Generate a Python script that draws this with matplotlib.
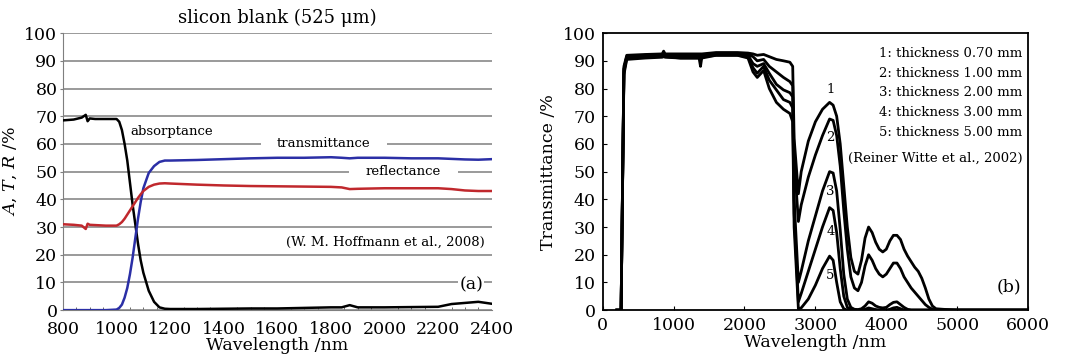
import matplotlib
matplotlib.use('Agg')
import matplotlib.pyplot as plt
from matplotlib.ticker import MultipleLocator

plt.rcParams['font.family'] = ['DejaVu Serif']
plt.rcParams['mathtext.fontset'] = 'dejavuserif'

# ---- panel (a): silicon blank 525 um ----
wl_a = [800, 840, 870, 885, 892, 900, 920, 960, 1000, 1010, 1020, 1030, 1040, 1050,
        1060, 1070, 1080, 1090, 1100, 1120, 1140, 1160, 1180, 1200, 1300, 1400,
        1500, 1600, 1700, 1800, 1840, 1870, 1900, 2000, 2100, 2200, 2250, 2300,
        2350, 2400]
absorp = [68.5, 68.8, 69.5, 70.5, 68.2, 69.2, 69.0, 69.0, 69.0, 68.0, 65.0, 60.0,
          54.0, 46.0, 38.0, 31.0, 24.0, 18.0, 13.5, 7.0, 3.0, 1.0, 0.5, 0.4, 0.4,
          0.5, 0.6, 0.6, 0.8, 1.0, 1.0, 1.8, 1.0, 1.0, 1.1, 1.2, 2.2, 2.6, 3.0, 2.3]
transm = [0.0, 0.0, 0.0, 0.0, 0.0, 0.0, 0.0, 0.0, 0.2, 0.8, 2.0, 4.5, 8.0, 13.0,
          19.0, 26.0, 33.0, 39.0, 44.0, 49.5, 52.0, 53.5, 54.0, 54.0, 54.2, 54.5,
          54.8, 55.0, 55.0, 55.2, 55.0, 54.8, 55.0, 55.0, 54.8, 54.8, 54.6, 54.4,
          54.3, 54.5]
reflect = [31.0, 30.8, 30.5, 29.3, 31.2, 30.8, 30.7, 30.5, 30.5, 31.0, 31.8, 33.0,
           34.5, 36.0, 37.5, 39.0, 40.5, 41.8, 43.0, 44.5, 45.3, 45.7, 45.8, 45.7,
           45.3, 45.0, 44.8, 44.7, 44.6, 44.5, 44.3, 43.7, 43.8, 44.0, 44.0, 44.0,
           43.7, 43.2, 43.0, 43.0]

# ---- panel (b): transmittance vs thickness ----
wl_b = [200, 260, 300, 340, 600, 840, 860, 880, 1100, 1360, 1380, 1400, 1600, 1900,
        2050, 2120, 2180, 2270, 2350, 2450, 2550, 2640, 2680, 2700, 2760, 2800,
        2900, 3000, 3100, 3200, 3250, 3300, 3350, 3400, 3450, 3500, 3550, 3600,
        3650, 3700, 3750, 3800, 3850, 3900, 3950, 4000, 4050, 4100, 4150, 4200,
        4250, 4300, 4350, 4400, 4450, 4500, 4550, 4600, 4650, 4700, 4800, 5000,
        6000]
t1 = [0, 0, 88, 92, 92.3, 92.5, 93.5, 92.5, 92.5, 92.5, 92.5, 92.5, 93, 93, 92.8,
      92.5, 92, 92.3, 91.5, 90.5, 90, 89.5, 88, 62, 42, 50, 61, 68, 72.5, 75, 74,
      70, 60, 45, 30, 19, 14, 13, 18, 26, 30, 28, 24.5, 22, 21, 22, 25, 27, 27,
      25.5, 22, 19.5, 17.5, 15.5, 14, 11.5, 8, 4, 1.5, 0.5, 0.3, 0, 0]
t2 = [0, 0, 87, 91.5, 92, 92.2, 93, 92.2, 92, 92, 92, 92, 92.5, 92.5, 92.3, 91.5,
      90, 90.5, 88, 86, 84, 82.5, 81, 55, 32, 38, 48, 56, 63, 69, 68.5, 63, 52,
      36, 22, 12, 8, 7, 10, 16, 20, 18, 15, 13, 12, 13, 15, 17, 17, 15, 12, 10,
      8, 6.5, 5, 3.5, 2, 1, 0.3, 0, 0, 0, 0]
t3 = [0, 0, 87, 91.5, 92, 92, 92.5, 92, 91.5, 91.5, 91.5, 91.5, 92.5, 92.5, 92,
      89, 88, 89, 85.5, 81.5, 79.5, 78.5, 77, 40, 10, 14, 25, 34, 43, 50, 49.5,
      43, 29, 13, 4, 1, 0.3, 0.2, 0.5, 1.5, 3, 2.5, 1.5, 1, 0.8, 1, 2, 2.8, 3, 2,
      1, 0.3, 0, 0, 0, 0, 0, 0, 0, 0, 0, 0, 0]
t4 = [0, 0, 86, 91, 91.5, 91.5, 92, 91.5, 91, 91, 88, 91.5, 92, 92, 91.5, 87.5,
      85.5, 88, 83, 79.5, 76, 75, 73, 35, 3, 6, 14, 22, 30, 37, 36, 28, 15, 5, 1,
      0.3, 0, 0, 0, 0.3, 0.8, 0.5, 0.2, 0, 0, 0, 0.3, 0.8, 1, 0.5, 0, 0, 0, 0, 0,
      0, 0, 0, 0, 0, 0, 0, 0]
t5 = [0, 0, 85, 90.5, 91, 91.3, 91.5, 91.3, 91, 91, 91, 91, 92, 92, 91, 86, 84,
      86.5, 80, 75, 72.5, 71, 68, 30, 0.5, 0.8, 4, 9, 15, 19.5, 18, 10, 3, 0.5, 0,
      0, 0, 0, 0, 0, 0, 0, 0, 0, 0, 0, 0, 0, 0, 0, 0, 0, 0, 0, 0, 0, 0, 0, 0, 0,
      0, 0, 0]
legend_b = ['1: thickness 0.70 mm', '2: thickness 1.00 mm', '3: thickness 2.00 mm',
            '4: thickness 3.00 mm', '5: thickness 5.00 mm']
curve_ids = ['1', '2', '3', '4', '5']
id_y = [79.5, 62.5, 42.8, 28.5, 12.6]

fig = plt.figure(figsize=(10.8, 3.64), dpi=100)
ax1 = fig.add_axes([0.0583, 0.148, 0.397, 0.761])
ax2 = fig.add_axes([0.558, 0.148, 0.394, 0.761])

fs = 12.5
# --- left ---
ax1.set_axisbelow(True)
ax1.yaxis.grid(True, color='#7f7f7f', lw=1.1)
ax1.plot(wl_a, absorp, color='black', lw=1.8, zorder=3)
ax1.plot(wl_a, transm, color='#2b2fa6', lw=1.8, zorder=3)
ax1.plot(wl_a, reflect, color='#c0282d', lw=1.8, zorder=3)
ax1.set_xlim(800, 2400)
ax1.set_ylim(0, 100)
ax1.xaxis.set_major_locator(MultipleLocator(200))
ax1.xaxis.set_minor_locator(MultipleLocator(50))
ax1.yaxis.set_major_locator(MultipleLocator(10))
for s in ['top', 'right']:
    ax1.spines[s].set_visible(False)
for s in ['left', 'bottom']:
    ax1.spines[s].set_color('#7f7f7f')
ax1.tick_params(axis='y', labelsize=fs, length=2, color='#7f7f7f', pad=2)
ax1.tick_params(axis='x', labelsize=fs, length=0, pad=8)
ax1.tick_params(axis='x', which='minor', direction='in', length=2, color='#555555')
ax1.set_title('slicon blank (525 μm)', fontsize=13, pad=7)
ax1.set_xlabel('Wavelength /nm', fontsize=fs, labelpad=-1)
ax1.set_ylabel('$A$, $T$, $R$ /%', fontsize=fs, labelpad=4)
box = dict(facecolor='white', edgecolor='none', pad=12)
ax1.text(1050, 64.5, 'absorptance', fontsize=9.5, va='center', ha='left', zorder=1)
ax1.text(1774, 60, 'transmittance', fontsize=9.5, va='center', ha='center',
         bbox=box, zorder=1)
ax1.text(2070, 50, 'reflectance', fontsize=9.5, va='center', ha='center',
         bbox=box, zorder=1)
ax1.text(2375, 24.5, '(W. M. Hoffmann et al., 2008)', fontsize=9.5, va='center',
         ha='right', zorder=1)
ax1.text(2323, 9, '(a)', fontsize=fs, va='center', ha='center',
         bbox=dict(facecolor='white', edgecolor='none', pad=1), zorder=1)

# --- right ---
for t in [t5, t4, t3, t2, t1]:
    ax2.plot(wl_b, t, color='black', lw=2.0)
ax2.set_xlim(0, 6000)
ax2.set_ylim(0, 100)
ax2.xaxis.set_major_locator(MultipleLocator(1000))
ax2.yaxis.set_major_locator(MultipleLocator(10))
for s in ax2.spines.values():
    s.set_linewidth(1.3)
ax2.tick_params(labelsize=fs, direction='in', length=3, pad=5)
ax2.set_xlabel('Wavelength /nm', fontsize=fs, labelpad=0)
ax2.set_ylabel('Transmittance /%', fontsize=fs, labelpad=4)
for cid, yy in zip(curve_ids, id_y):
    ax2.text(3210, yy, cid, fontsize=9.5, ha='center', va='center')
for i, lab in enumerate(legend_b):
    ax2.text(5920, 92.8 - 7.2 * i, lab, fontsize=9.5, ha='right', va='center')
ax2.text(5920, 55, '(Reiner Witte et al., 2002)', fontsize=9.5, ha='right', va='center')
ax2.text(5730, 8.5, '(b)', fontsize=fs, ha='center', va='center')

fig.savefig('out.png', dpi=100)
